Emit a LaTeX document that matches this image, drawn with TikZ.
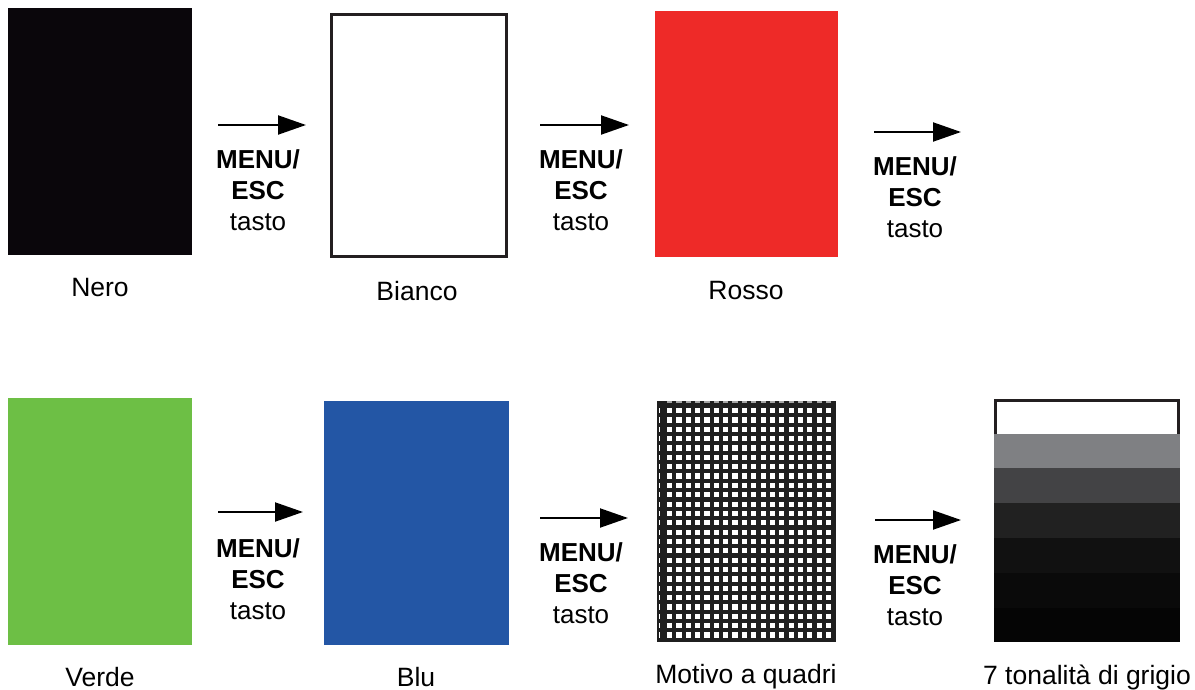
\documentclass[tikz,border=0pt]{standalone}
\usepackage{fontspec}
\setmainfont{Liberation Sans}
\usetikzlibrary{arrows.meta}
\definecolor{nero}{HTML}{0A060B}
\definecolor{rosso}{HTML}{EE2A28}
\definecolor{verde}{HTML}{6DBF45}
\definecolor{blu}{HTML}{2356A5}
\definecolor{bordo}{HTML}{231F20}
\definecolor{g1}{HTML}{7F8083}
\definecolor{g2}{HTML}{434345}
\definecolor{g3}{HTML}{212121}
\definecolor{g4}{HTML}{111111}
\definecolor{g5}{HTML}{0A0A0A}
\definecolor{g6}{HTML}{050505}
\tikzset{
  swatch/.style={anchor=north west,inner sep=0pt,outer sep=0pt,draw=none},
  lbl/.style={font=\fontsize{26.5}{30}\selectfont,text=black,anchor=center,inner sep=0pt},
  keylbl/.style={font=\fontsize{26}{31}\selectfont,align=center,anchor=north,inner sep=0pt},
  nextarrow/.style={line width=2pt,-{Triangle[length=28pt,width=19pt]}},
}
\begin{document}
\begin{tikzpicture}[x=1pt,y=-1pt]
\useasboundingbox (0,0) rectangle (1195,690);
\fill[white] (0,0) rectangle (1195,690);
% row 1
\node[swatch,fill=nero,minimum width=184pt,minimum height=247pt] (nero) at (8,8) {};
\node[swatch,draw=bordo,line width=3pt,fill=white,minimum width=175pt,minimum height=242pt] (bianco) at (331.5,14.5) {};
\node[swatch,fill=rosso,minimum width=183pt,minimum height=246pt] (rosso) at (655,11) {};
% row 2
\node[swatch,fill=verde,minimum width=184pt,minimum height=247pt] (verde) at (8,398) {};
\node[swatch,fill=blu,minimum width=185pt,minimum height=244pt] (blu) at (324,401) {};
\node[swatch,fill=black!88,minimum width=179pt,minimum height=241pt] (motivo) at (657,401) {};
\foreach \r in {0,...,24}{
  \foreach \c in {0,...,17}{
    \fill[white] (667+\c*9.35,408+\r*9.35) rectangle ++(5.2,5.2);
  }
  \fill[white] (659,408+\r*9.35) rectangle ++(1.4,5.2);
}
\foreach \c in {0,...,17}{
  \fill[gray!70] (667+\c*9.35,401) rectangle ++(5.2,1.8);
}
\node[swatch,minimum width=186pt,minimum height=243pt] (grigio) at (994,399) {};
\fill[g1] (994,434) rectangle (1180,468);
\fill[g2] (994,468) rectangle (1180,503);
\fill[g3] (994,503) rectangle (1180,538);
\fill[g4] (994,538) rectangle (1180,573);
\fill[g5] (994,573) rectangle (1180,608);
\fill[g6] (994,608) rectangle (1180,642);
\draw[bordo,line width=3pt,fill=white] (995.5,434) -- (995.5,400.5) -- (1178.5,400.5) -- (1178.5,434);
% labels
\node[lbl] (lnero) at (100,288) {Nero};
\node[lbl] (lbianco) at (417,291) {Bianco};
\node[lbl] (lrosso) at (746,291) {Rosso};
\node[lbl] (lverde) at (100,677) {Verde};
\node[lbl] (lblu) at (416,677) {Blu};
\node[lbl] (lmotivo) at (746,677) {Motivo a quadri};
\node[lbl] (lgrigio) at (1087,677) {7 tonalità di grigio};
% arrows
\coordinate (a1s) at (218,125); \coordinate (a1e) at (306,125);
\coordinate (a2s) at (540,125); \coordinate (a2e) at (629,125);
\coordinate (a3s) at (874,132); \coordinate (a3e) at (961,132);
\coordinate (b1s) at (218,512); \coordinate (b1e) at (303,512);
\coordinate (b2s) at (540,518); \coordinate (b2e) at (628,518);
\coordinate (b3s) at (875,520); \coordinate (b3e) at (961,520);
\foreach \s/\e in {a1s/a1e,a2s/a2e,a3s/a3e,b1s/b1e,b2s/b2e,b3s/b3e}
  \draw[nextarrow] (\s) -- (\e);
\node[keylbl] (k1) at (258,149) {\textbf{MENU/}\\\textbf{ESC}\\tasto};
\node[keylbl] (k2) at (581,149) {\textbf{MENU/}\\\textbf{ESC}\\tasto};
\node[keylbl] (k3) at (915,156) {\textbf{MENU/}\\\textbf{ESC}\\tasto};
\node[keylbl] (k4) at (258,538) {\textbf{MENU/}\\\textbf{ESC}\\tasto};
\node[keylbl] (k5) at (581,542) {\textbf{MENU/}\\\textbf{ESC}\\tasto};
\node[keylbl] (k6) at (915,544) {\textbf{MENU/}\\\textbf{ESC}\\tasto};
\end{tikzpicture}
\end{document}
